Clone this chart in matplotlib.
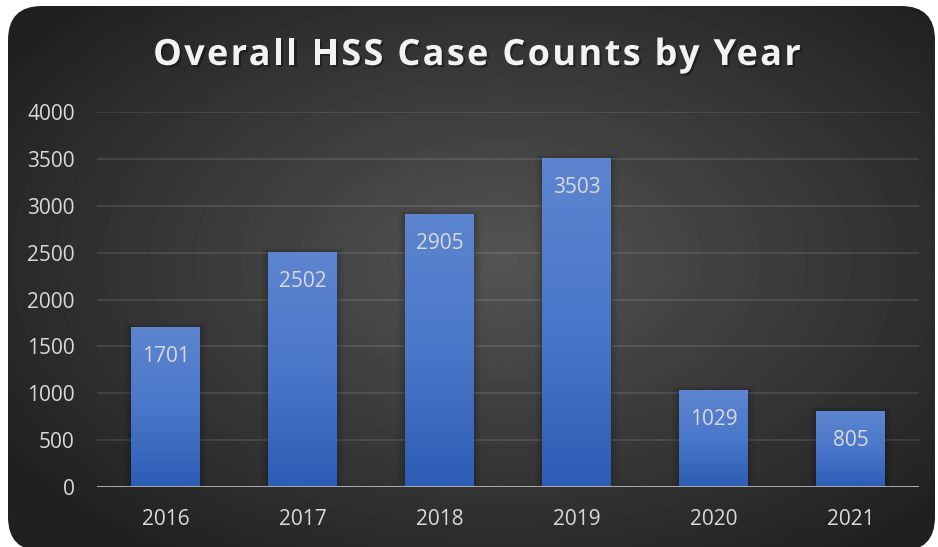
import numpy as np
import matplotlib.pyplot as plt
import matplotlib.patheffects as pe
from matplotlib.patches import FancyBboxPatch, Rectangle
from matplotlib.colors import LinearSegmentedColormap

years = ['2016', '2017', '2018', '2019', '2020', '2021']
counts = [1701, 2502, 2905, 3503, 1029, 805]
y_ticks = [0, 500, 1000, 1500, 2000, 2500, 3000, 3500, 4000]
title = 'Overall HSS Case Counts by Year'

W, H = 938, 547
fig = plt.figure(figsize=(W / 100, H / 100), dpi=100)
fig.patch.set_facecolor('white')

# dark rounded panel with a radial gradient
bg = fig.add_axes([0, 0, 1, 1])
bg.set_xlim(0, W)
bg.set_ylim(H, 0)
bg.axis('off')
yy, xx = np.mgrid[0:H, 0:W]
r = np.sqrt(((xx - 500) / 560) ** 2 + ((yy - 260) / 340) ** 2)
shade = np.clip(0.33 - 0.19 * r, 0.13, 0.33)
img = bg.imshow(shade, cmap='gray', vmin=0, vmax=1, extent=(0, W, H, 0),
                interpolation='bilinear')
panel = FancyBboxPatch((8, 6), 927, 545, boxstyle='round,pad=0,rounding_size=34',
                       transform=bg.transData, fc='none', ec='none')
bg.add_patch(panel)
img.set_clip_path(panel)

ax = fig.add_axes([97 / W, 60 / H, 822 / W, 375 / H])
ax.set_facecolor('none')

x = np.arange(len(years))
bar_w = 0.5
blue = LinearSegmentedColormap.from_list('bar', ['#2c5db5', '#4a77c9', '#5d85d0'])
grad = np.linspace(0, 1, 256).reshape(-1, 1)

for xi, v in zip(x, counts):
    # soft shadow
    for k in [0.1, 0.075, 0.05, 0.03, 0.015]:
        ax.add_patch(Rectangle((xi - bar_w / 2 - k / 2, 0), bar_w + k, v + k * 500,
                               fc='black', ec='none', alpha=0.04, zorder=2))
    ax.imshow(grad, extent=(xi - bar_w / 2, xi + bar_w / 2, 0, v), origin='lower',
              cmap=blue, aspect='auto', zorder=3, interpolation='bilinear')
    ax.annotate(str(v), (xi, v), xytext=(0, -21), textcoords='offset points',
                ha='center', va='center', color='#d9d9d9', fontsize=15,
                family='Open Sans', zorder=4)

ax.set_xlim(-0.5, len(years) - 0.5)
ax.set_ylim(0, 4000)
ax.set_xticks(x)
ax.set_xticklabels(years)
ax.set_yticks(y_ticks)
ax.tick_params(length=0, colors='#d9d9d9', labelsize=15)
ax.tick_params(axis='y', pad=16)
ax.tick_params(axis='x', pad=16)
for lab in ax.get_xticklabels() + ax.get_yticklabels():
    lab.set_family('Open Sans')
for s in ax.spines.values():
    s.set_visible(False)
ax.grid(axis='y', color='white', alpha=0.1, lw=1.5, zorder=1)
ax.set_axisbelow(True)
ax.axhline(0, color='#a6a6a6', lw=2.2, zorder=5)

# letter-spaced title, one character at a time
renderer = fig.canvas.get_renderer()
tprops = dict(color='#f2f2f2', fontsize=26, fontweight='bold', family='Open Sans',
              va='center', ha='left')


def text_width(s):
    t = fig.text(0, 0, s, **tprops)
    w = t.get_window_extent(renderer).width
    t.remove()
    return w


spacing = 2.3
starts = []
for i, ch in enumerate(title):
    starts.append(text_width(title[:i + 1]) - text_width(ch) + i * spacing if ch != ' ' else None)
total = text_width(title) + spacing * (len(title) - 1)
x0 = 477 - total / 2
shadow = [pe.SimplePatchShadow(offset=(1.5, -1.5), shadow_rgbFace='black', alpha=0.35),
          pe.Normal()]
for ch, s in zip(title, starts):
    if s is None:
        continue
    fig.text((x0 + s) / W, 1 - 56 / H, ch, path_effects=shadow, **tprops)

fig.savefig('out.png', dpi=100)
